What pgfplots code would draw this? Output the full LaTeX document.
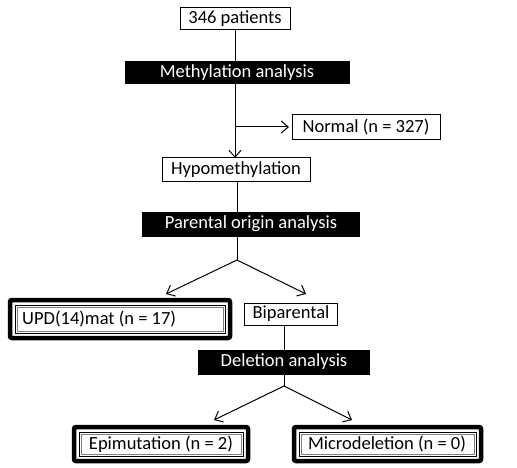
\documentclass[border=0pt]{standalone}
\usepackage{pgfplots}
\pgfplotsset{compat=1.18}
\usepackage{fontspec}
\setmainfont{Carlito}
\usetikzlibrary{arrows.meta}
\tikzset{tx/.style={font=\fontsize{18.5}{20}\selectfont,inner sep=0pt}}
\begin{document}
\begin{tikzpicture}[x=1pt,y=1pt]
\begin{axis}[width=517pt,height=468pt,scale only axis,xmin=0,xmax=517,ymin=0,ymax=468,
  y dir=reverse,hide axis,clip=false,
  every axis plot post/.style={black,solid,mark=none,line width=1pt}]
\addplot[draw=none] coordinates {(0,0) (517,468)};
% lines
\addplot coordinates {(235,30) (235,160)};
\addplot[-{Straight Barb[length=7pt,width=12pt]}] coordinates {(235,127) (289,127)};
\addplot[-{Straight Barb[length=7pt,width=12pt]}] coordinates {(235,140) (235,158)};
\addplot coordinates {(237,182) (237,260)};
\addplot[-{Straight Barb[length=7pt,width=12pt]}] coordinates {(237,260) (166,294)};
\addplot[-{Straight Barb[length=7pt,width=12pt]}] coordinates {(237,260) (306,294)};
\addplot coordinates {(284,325) (284,386)};
\addplot[-{Straight Barb[length=7pt,width=12pt]}] coordinates {(284,386) (214,420)};
\addplot[-{Straight Barb[length=7pt,width=12pt]}] coordinates {(284,386) (352,420)};
% plain boxes
\node[tx,draw,fill=white,line width=1pt,minimum width=110pt,minimum height=22pt] at (axis cs:235,19) {346 patients};
\node[tx,draw,fill=white,line width=1pt,minimum width=148pt,minimum height=25pt] at (axis cs:366,127) {Normal (n = 327)};
\node[tx,draw,fill=white,line width=1pt,minimum width=148pt,minimum height=24pt] at (axis cs:236,170) {Hypomethylation};
\node[tx,draw,fill=white,line width=1pt,minimum width=93pt,minimum height=22pt] at (axis cs:291,314) {Biparental};
% black boxes
\node[tx,fill=black,text=white,minimum width=225pt,minimum height=23pt] at (axis cs:237,73) {Methylation analysis};
\node[tx,fill=black,text=white,minimum width=218pt,minimum height=25pt] at (axis cs:251,224) {Parental origin analysis};
\node[tx,fill=black,text=white,minimum width=172pt,minimum height=25pt] at (axis cs:284,362) {Deletion analysis};
% framed result boxes
\draw[fill=white,line width=4.5pt,rounded corners=2pt] (axis cs:10,300) rectangle (axis cs:230,338);
\draw[line width=0.9pt] (axis cs:15,305) rectangle (axis cs:225,333);
\draw[line width=0.6pt,gray] (axis cs:17,307) rectangle (axis cs:223,331);
\node[tx,anchor=west] at (axis cs:22,319) {UPD(14)mat (n = 17)};
\draw[fill=white,line width=4.5pt,rounded corners=2pt] (axis cs:74,427) rectangle (axis cs:248,461);
\draw[line width=0.9pt] (axis cs:79,432) rectangle (axis cs:243,456);
\draw[line width=0.6pt,gray] (axis cs:81,434) rectangle (axis cs:241,454);
\node[tx] at (axis cs:161,444) {Epimutation (n = 2)};
\draw[fill=white,line width=4.5pt,rounded corners=2pt] (axis cs:294,427) rectangle (axis cs:481,461);
\draw[line width=0.9pt] (axis cs:299,432) rectangle (axis cs:476,456);
\draw[line width=0.6pt,gray] (axis cs:301,434) rectangle (axis cs:474,454);
\node[tx] at (axis cs:387,444) {Microdeletion (n = 0)};
\end{axis}
\end{tikzpicture}
\end{document}
